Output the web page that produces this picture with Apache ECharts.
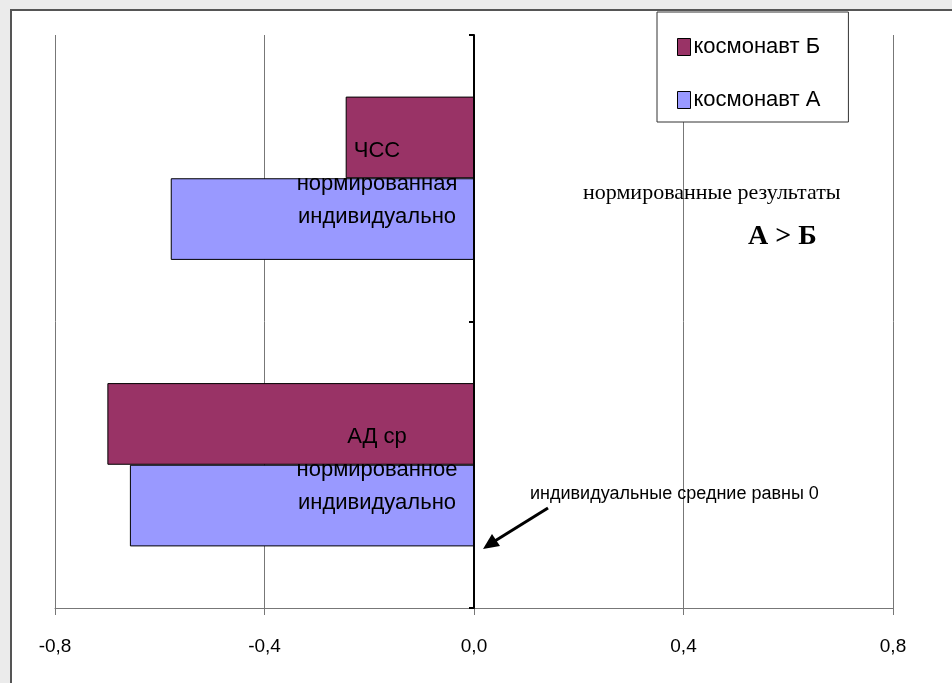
<!DOCTYPE html>
<html>
<head>
<meta charset="utf-8">
<script src="https://cdn.jsdelivr.net/npm/echarts@6/dist/echarts.min.js"></script>
<style>
html,body{margin:0;padding:0;width:952px;height:683px;overflow:hidden;background:#ebebeb;}
#panel{position:absolute;left:10px;top:9px;width:960px;height:700px;background:#fff;border:2px solid #555;}
#chart{position:absolute;left:0;top:0;width:952px;height:683px;}
</style>
</head>
<body>
<div id="panel"></div>
<div id="chart"></div>
<script>
const categories = ['АД ср\nнормированное\nиндивидуально', 'ЧСС\nнормированная\nиндивидуально'];
const seriesNames = ['космонавт Б', 'космонавт А'];
const valuesB = [-0.70, -0.245];
const valuesA = [-0.657, -0.579];
const xMin = -0.8, xMax = 0.8, xStep = 0.4;

const FONT = '"Liberation Sans Narrow", "Liberation Sans", Arial, sans-serif';
const SERIF = '"Liberation Serif", "Times New Roman", serif';

const chart = echarts.init(document.getElementById('chart'), null, {renderer: 'canvas'});
chart.setOption({
  backgroundColor: 'transparent',
  animation: false,
  grid: {left: 55, right: 59, top: 35, bottom: 75, containLabel: false, outerBoundsMode: 'none'},
  legend: {
    orient: 'vertical',
    left: 657, top: 12,
    data: [seriesNames[0], seriesNames[1]],
    backgroundColor: '#fff',
    borderColor: '#333', borderWidth: 1,
    padding: [24, 28, 11, 20],
    itemGap: 31,
    itemWidth: 13, itemHeight: 17,
    icon: 'rect',
    itemStyle: {borderColor: '#000', borderWidth: 1},
    textStyle: {fontFamily: FONT, fontSize: 22, color: '#000', padding: [0, 0, 0, -2]}
  },
  xAxis: {
    type: 'value',
    min: xMin, max: xMax, interval: xStep,
    axisLine: {show: true, onZero: false, lineStyle: {color: '#777', width: 1}},
    axisTick: {show: true, length: 7, lineStyle: {color: '#777'}},
    splitLine: {show: true, lineStyle: {color: '#777', width: 1}},
    axisLabel: {
      margin: 29, fontFamily: FONT, fontSize: 19, color: '#000',
      formatter: v => v.toFixed(1).replace('.', ',')
    }
  },
  yAxis: {
    type: 'category',
    data: categories,
    axisLine: {onZero: true, lineStyle: {color: '#000', width: 2}},
    axisTick: {show: true, length: 5, lineStyle: {color: '#000', width: 2}},
    axisLabel: {
      align: 'center', margin: -322, fontFamily: FONT, fontSize: 22,
      lineHeight: 33, color: '#000',
      formatter: v => '{s|}\n' + v.split('\n').map(l => '{t|' + l + '}').join('\n'),
      rich: {
        s: {lineHeight: 11, fontSize: 1},
        t: {fontFamily: FONT, fontSize: 22, lineHeight: 33, color: '#000'}
      }
    },
    z: 5
  },
  series: [
    {
      name: seriesNames[0], type: 'bar', data: valuesB,
      barGap: '0%', barCategoryGap: '43%',
      itemStyle: {color: '#993366', borderColor: '#000', borderWidth: 1},
      z: 1
    },
    {
      name: seriesNames[1], type: 'bar', data: valuesA,
      barGap: '0%', barCategoryGap: '43%',
      itemStyle: {color: '#9999FF', borderColor: '#000', borderWidth: 1},
      z: 1
    }
  ],
  graphic: [
    {type: 'text', left: 583, top: 182, z: 100, style: {text: 'нормированные результаты', font: '22px ' + SERIF, fill: '#000'}},
    {type: 'text', left: 748, top: 223, z: 100, style: {text: 'А > Б', font: 'bold 28px ' + SERIF, fill: '#000'}},
    {type: 'text', left: 530, top: 485, z: 100, style: {text: 'индивидуальные средние равны 0', font: '18px ' + FONT, fill: '#000'}},
    {type: 'line', z: 100, shape: {x1: 548, y1: 508, x2: 490, y2: 544}, style: {stroke: '#000', lineWidth: 3}},
    {type: 'polygon', z: 100, shape: {points: [[483, 549], [492, 534], [500, 546]]}, style: {fill: '#000'}}
  ]
});
</script>
</body>
</html>
